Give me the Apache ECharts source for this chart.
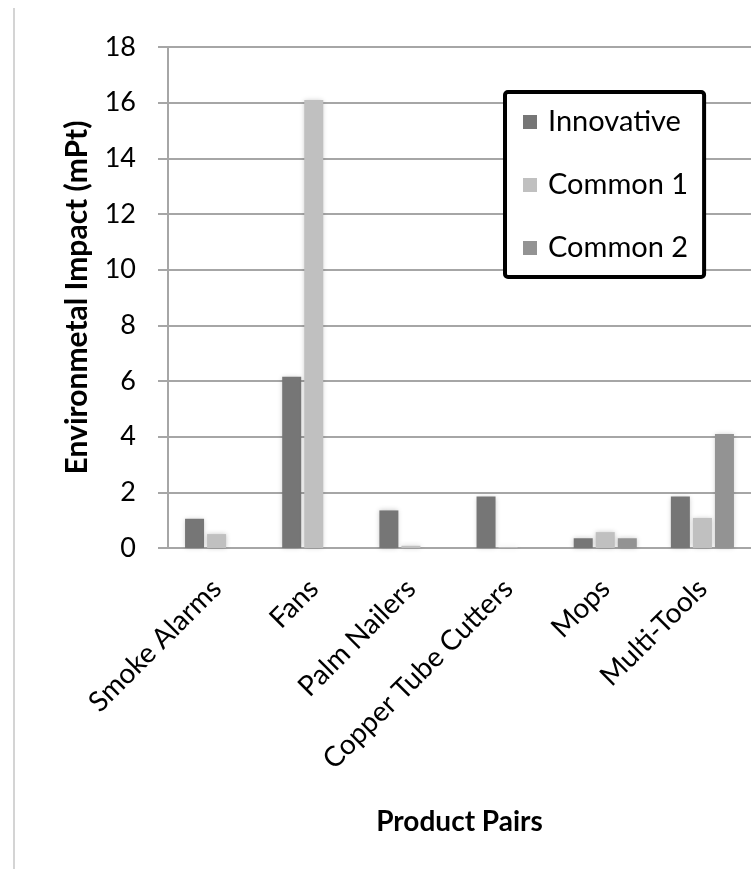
<!DOCTYPE html>
<html>
<head>
<meta charset="utf-8">
<script src="https://cdn.jsdelivr.net/npm/echarts@6/dist/echarts.min.js"></script>
<style>
  html, body { margin: 0; padding: 0; background: #fff; }
  #chart { width: 751px; height: 869px; }
</style>
</head>
<body>
<div id="chart"></div>
<script>
// Product pairs compared by environmental impact (mPt)
const categories = ['Smoke Alarms', 'Fans', 'Palm Nailers', 'Copper Tube Cutters', 'Mops', 'Multi-Tools'];
const innovative = [1.05, 6.15, 1.35, 1.85, 0.35, 1.85];
const common1 = [0.5, 16.1, 0.08, 0.03, 0.57, 1.08];
const common2 = [0, 0, 0, 0, 0.35, 4.1];
const yTicks = { min: 0, max: 18, interval: 2 };

const FONT = 'Lato';
const chart = echarts.init(document.getElementById('chart'), null, { renderer: 'canvas' });

const barShadow = { shadowBlur: 5, shadowColor: 'rgba(0,0,0,0.22)' };

chart.setOption({
  animation: false,
  backgroundColor: '#ffffff',
  graphic: [{
    type: 'line',
    shape: { x1: 14, y1: 8, x2: 14, y2: 869 },
    style: { stroke: '#d4d4d4', lineWidth: 2 }
  }],
  grid: { left: 168, top: 47, width: 594, height: 501, containLabel: false },
  legend: {
    orient: 'vertical',
    left: 505,
    top: 92,
    padding: [14, 16, 13, 18],
    itemGap: 31,
    itemWidth: 14,
    itemHeight: 14,
    borderColor: '#000',
    borderWidth: 4,
    borderRadius: 3,
    backgroundColor: '#fff',
    icon: 'rect',
    textStyle: { fontFamily: FONT, fontSize: 29, color: '#000', lineHeight: 32, padding: [0, 0, 0, 6] },
    data: ['Innovative', 'Common 1', 'Common 2']
  },
  xAxis: {
    type: 'category',
    data: categories,
    name: 'Product Pairs',
    nameLocation: 'middle',
    nameGap: 260,
    nameTextStyle: { fontFamily: FONT, fontSize: 28, fontWeight: 'bold', color: '#000' },
    axisLine: { show: true, lineStyle: { color: '#a6a6a6', width: 2 } },
    axisTick: { show: false },
    axisLabel: { rotate: 45, margin: 36, fontFamily: FONT, fontSize: 28, color: '#000', interval: 0 },
    splitLine: { show: false }
  },
  yAxis: {
    type: 'value',
    min: yTicks.min,
    max: yTicks.max,
    interval: yTicks.interval,
    name: 'Environmetal Impact (mPt)',
    nameLocation: 'middle',
    nameRotate: 90,
    nameGap: 76,
    nameTextStyle: { fontFamily: FONT, fontSize: 30, fontWeight: 'bold', color: '#000' },
    axisLine: { show: true, lineStyle: { color: '#a6a6a6', width: 2 } },
    axisTick: { show: true, inside: false, length: 10, lineStyle: { color: '#a6a6a6', width: 2 } },
    axisLabel: { margin: 32, fontFamily: FONT, fontSize: 27, color: '#000' },
    splitLine: { show: true, lineStyle: { color: '#a6a6a6', width: 2 } }
  },
  series: [
    { name: 'Innovative', type: 'bar', data: innovative, barWidth: 19, barGap: '16%',
      itemStyle: Object.assign({ color: '#767676' }, barShadow) },
    { name: 'Common 1', type: 'bar', data: common1, barWidth: 19, barGap: '16%',
      itemStyle: Object.assign({ color: '#c0c0c0' }, barShadow) },
    { name: 'Common 2', type: 'bar', data: common2, barWidth: 19, barGap: '16%',
      itemStyle: Object.assign({ color: '#939393' }, barShadow) }
  ]
});
</script>
</body>
</html>
